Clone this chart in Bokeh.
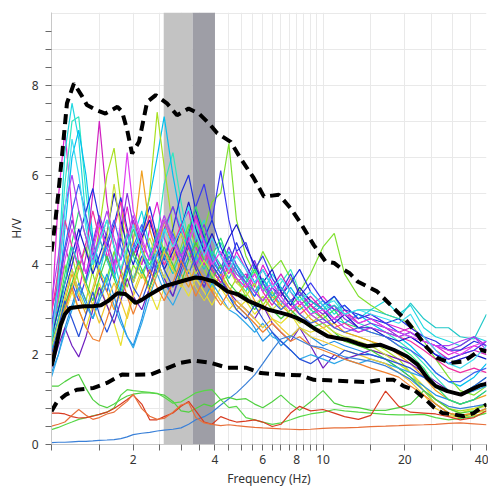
from bokeh.plotting import figure
from bokeh.models import FixedTicker, BasicTickFormatter, Range1d
from bokeh.embed import file_html
from bokeh.resources import INLINE

# ---------------- data ----------------
freq = [1.0, 1.06, 1.12, 1.19, 1.26, 1.34, 1.42, 1.5, 1.6, 1.7, 1.8, 1.9, 2.0,
        2.15, 2.3, 2.45, 2.6, 2.8, 3.0, 3.2, 3.4, 3.65, 3.9, 4.2, 4.5, 4.8,
        5.2, 5.6, 6.0, 6.5, 7.0, 7.6, 8.2, 9.0, 10, 11, 12, 13.5,
        15, 17, 19, 21, 23.5, 26, 29, 32, 36, 40]

h01 = [2.8, 5.5, 7.0, 5.2, 4.0, 3.6, 4.4, 5.0, 4.2, 3.8, 4.6, 5.3, 4.5,
       4.0, 4.8, 5.4, 4.6, 4.1, 4.9, 5.2, 4.4, 4.0, 4.6, 4.2, 3.8, 4.3,
       3.9, 3.5, 4.0, 3.6, 3.3, 3.7, 3.4, 3.1, 3.3, 3.0, 2.9, 2.8,
       2.9, 2.7, 2.6, 2.5, 2.3, 2.2, 2.0, 2.1, 2.2, 2.1]
h02 = [2.0, 4.0, 6.5, 7.6, 6.8, 5.0, 4.2, 3.8, 4.5, 4.1, 3.5, 4.0, 4.6,
       5.2, 4.4, 4.0, 4.7, 5.3, 4.8, 4.2, 4.6, 5.0, 4.3, 3.9, 4.4, 4.0,
       3.6, 4.0, 3.4, 3.8, 3.5, 3.2, 3.4, 3.0, 3.2, 2.9, 3.1, 2.8,
       3.0, 3.2, 2.9, 3.1, 2.6, 2.4, 2.3, 2.2, 2.4, 2.3]
h03 = [2.4, 3.8, 5.8, 7.2, 7.3, 5.6, 4.4, 3.9, 3.6, 4.2, 4.8, 4.0, 3.7,
       4.2, 3.9, 4.6, 5.8, 6.5, 5.4, 4.5, 4.9, 4.4, 4.0, 4.5, 4.1, 3.7,
       3.4, 3.9, 3.6, 3.3, 3.6, 3.9, 3.4, 3.2, 3.0, 3.3, 2.9, 2.7,
       2.6, 2.5, 2.3, 2.1, 1.8, 1.5, 1.2, 1.1, 1.3, 1.5]
h04 = [2.2, 3.2, 4.8, 6.4, 7.0, 6.0, 4.6, 4.0, 4.4, 3.8, 3.4, 3.9, 4.3,
       4.8, 5.5, 6.4, 7.3, 6.0, 5.0, 4.5, 4.1, 4.6, 4.2, 3.8, 4.3, 3.9,
       3.5, 3.3, 3.7, 3.4, 3.1, 3.5, 3.2, 2.9, 3.1, 2.8, 2.7, 2.9,
       2.7, 2.5, 2.4, 2.2, 1.9, 1.6, 1.4, 1.3, 1.5, 1.8]
h05 = [3.0, 3.6, 4.4, 3.9, 3.4, 4.2, 5.6, 7.2, 5.4, 4.4, 3.8, 4.4, 5.0,
       4.4, 3.9, 4.3, 5.0, 4.5, 4.0, 4.6, 5.1, 4.5, 3.9, 3.6, 4.0, 3.6,
       3.8, 3.4, 3.2, 3.5, 3.8, 3.4, 3.1, 3.3, 3.0, 2.8, 3.0, 2.7,
       2.8, 2.6, 2.5, 2.6, 2.4, 2.1, 1.9, 2.0, 2.1, 2.0]
h06 = [2.5, 3.0, 3.6, 4.2, 3.6, 3.2, 3.9, 4.8, 6.0, 6.6, 5.4, 4.2, 3.6,
       4.4, 5.6, 7.4, 6.2, 4.8, 4.2, 3.8, 4.3, 3.9, 3.5, 3.8, 3.4, 3.7,
       3.3, 3.6, 3.1, 3.4, 3.0, 3.2, 2.9, 2.7, 2.9, 2.6, 2.5, 2.4,
       2.3, 2.1, 1.9, 1.6, 1.3, 1.0, 0.8, 0.75, 0.8, 0.9]
h07 = [2.6, 3.2, 4.0, 3.4, 3.9, 4.4, 3.8, 3.3, 3.7, 4.3, 3.9, 3.5, 4.0,
       3.7, 4.2, 4.8, 4.3, 3.9, 4.4, 4.9, 4.4, 4.8, 5.4, 5.6, 6.7, 5.0,
       4.2, 3.8, 4.3, 3.9, 4.1, 3.7, 3.4, 3.8, 4.4, 4.7, 3.8, 3.3,
       3.1, 2.9, 2.8, 2.7, 2.3, 1.9, 1.5, 1.2, 1.1, 1.3]
h08 = [2.2, 2.8, 3.4, 4.0, 4.6, 5.2, 5.7, 5.0, 4.4, 4.9, 5.5, 4.8, 4.2,
       4.7, 5.3, 4.6, 4.1, 4.8, 5.6, 6.0, 5.2, 4.6, 5.0, 4.4, 4.0, 4.5,
       4.0, 3.6, 3.9, 3.5, 3.3, 3.6, 3.9, 3.4, 3.1, 3.3, 3.0, 2.9,
       2.8, 2.7, 2.8, 2.6, 2.4, 2.3, 2.1, 2.1, 2.3, 2.2]
h09 = [1.9, 2.4, 3.0, 3.6, 3.2, 3.7, 4.3, 3.8, 3.4, 4.0, 4.6, 4.1, 3.6,
       4.2, 3.8, 4.5, 5.0, 4.4, 4.0, 4.7, 5.3, 5.8, 5.0, 6.1, 5.0, 4.3,
       4.5, 3.9, 4.2, 3.7, 3.4, 3.8, 3.3, 3.6, 3.2, 3.0, 3.1, 2.8,
       2.9, 2.7, 2.5, 2.4, 2.2, 2.0, 1.9, 2.0, 2.1, 2.3]
h10 = [2.6, 3.4, 4.3, 5.0, 4.4, 3.8, 4.5, 5.1, 4.6, 4.0, 4.7, 5.6, 4.9,
       4.3, 3.7, 4.2, 4.8, 5.3, 4.7, 4.1, 4.5, 4.9, 4.3, 3.9, 4.4, 4.0,
       3.7, 4.1, 3.6, 3.3, 3.5, 3.2, 3.4, 3.1, 2.9, 3.1, 2.8, 2.6,
       2.7, 2.6, 2.4, 2.5, 2.3, 2.2, 2.1, 2.2, 2.4, 2.2]
h11 = [2.0, 2.6, 3.2, 3.8, 3.3, 2.9, 3.4, 3.9, 3.4, 3.0, 3.5, 4.1, 4.5,
       6.1, 4.8, 4.2, 5.0, 4.4, 3.8, 3.5, 4.0, 3.7, 3.4, 3.8, 3.5, 3.3,
       3.6, 3.2, 3.0, 3.3, 3.1, 2.9, 3.1, 2.8, 2.6, 2.7, 2.5, 2.4,
       2.3, 2.2, 2.0, 1.8, 1.5, 1.2, 1.0, 0.9, 1.0, 1.1]
h12 = [1.8, 2.3, 2.9, 3.4, 3.0, 2.6, 3.1, 3.6, 3.1, 2.7, 2.2, 2.9, 3.4,
       3.9, 3.4, 3.0, 3.5, 4.0, 3.6, 3.3, 3.7, 3.4, 3.1, 3.5, 3.2, 3.0,
       3.2, 2.9, 3.1, 2.8, 2.7, 2.9, 2.6, 2.5, 2.6, 2.4, 2.3, 2.2,
       2.1, 2.0, 1.8, 1.6, 1.3, 1.0, 0.8, 0.7, 0.8, 0.85]
h13 = [1.6, 2.0, 2.6, 3.1, 3.6, 3.2, 2.8, 3.3, 3.8, 3.3, 2.8, 2.4, 2.2,
       2.8, 3.5, 4.0, 3.6, 3.3, 3.8, 4.2, 3.8, 3.5, 3.9, 3.6, 3.3, 3.1,
       2.9, 2.6, 2.3, 2.5, 2.2, 2.4, 2.6, 2.4, 2.2, 2.3, 2.2, 2.1,
       2.0, 1.9, 1.7, 1.5, 1.3, 1.1, 1.0, 0.9, 1.0, 1.2]
h14 = [1.7, 2.2, 2.6, 2.2, 1.95, 2.4, 3.0, 3.5, 3.1, 2.7, 3.2, 3.7, 3.3,
       3.0, 3.5, 4.1, 3.7, 3.3, 3.9, 4.4, 3.9, 3.5, 4.0, 3.7, 3.4, 3.2,
       3.0, 2.8, 3.1, 2.7, 2.5, 2.3, 2.6, 2.2, 1.7, 2.0, 1.9, 2.0,
       2.1, 2.0, 1.9, 1.8, 1.6, 1.4, 1.2, 1.1, 1.2, 1.4]
h15 = [2.3, 3.0, 3.8, 4.5, 5.2, 4.6, 4.0, 4.5, 5.0, 4.4, 3.9, 4.3, 4.8,
       4.3, 4.0, 4.5, 5.0, 4.6, 4.2, 4.8, 5.3, 4.7, 4.2, 4.6, 4.1, 3.8,
       3.6, 3.9, 3.5, 3.2, 3.4, 3.1, 3.3, 3.0, 2.8, 3.0, 2.7, 2.6,
       2.5, 2.4, 2.2, 2.0, 1.7, 1.3, 1.0, 0.9, 1.0, 1.2]
h16 = [2.9, 3.9, 5.0, 4.4, 3.9, 4.5, 5.2, 4.6, 4.1, 4.8, 5.4, 4.7, 4.2,
       4.6, 5.1, 4.5, 4.0, 4.4, 4.9, 4.4, 4.0, 4.3, 3.9, 3.6, 4.0, 3.7,
       3.5, 3.8, 3.4, 3.1, 3.4, 3.1, 2.9, 3.1, 2.8, 2.6, 2.7, 2.5,
       2.6, 2.5, 2.4, 2.3, 2.1, 1.9, 1.7, 1.6, 1.7, 1.6]
h17 = [2.4, 3.0, 3.6, 4.2, 4.8, 4.3, 3.8, 4.2, 4.7, 5.6, 5.0, 4.4, 4.0,
       4.6, 5.0, 4.4, 3.9, 4.3, 4.8, 5.4, 4.8, 4.3, 4.7, 4.2, 4.6, 4.9,
       4.4, 4.0, 3.6, 3.9, 3.4, 3.1, 3.5, 3.2, 3.0, 2.7, 2.9, 2.6,
       2.6, 2.4, 2.3, 2.4, 2.2, 2.0, 1.8, 1.9, 2.0, 1.9]
h18 = [2.1, 2.8, 3.6, 4.4, 4.0, 3.6, 4.1, 4.6, 4.1, 3.7, 4.2, 4.7, 4.2,
       3.8, 4.2, 4.7, 4.2, 3.8, 4.3, 4.7, 4.2, 3.9, 4.3, 4.0, 3.7, 4.0,
       3.7, 3.4, 3.7, 3.3, 3.5, 3.2, 3.0, 3.2, 3.0, 3.1, 2.9, 3.0,
       3.0, 2.9, 2.8, 3.15, 2.8, 2.6, 2.6, 2.4, 2.35, 2.9]
h19 = [1.9, 2.5, 3.1, 3.6, 4.1, 3.6, 3.2, 3.7, 4.2, 3.7, 3.3, 3.8, 4.3,
       3.9, 3.5, 3.9, 4.4, 4.0, 3.6, 4.1, 4.5, 4.1, 3.7, 4.0, 3.6, 3.4,
       3.3, 3.0, 3.3, 3.0, 2.8, 3.0, 2.8, 2.6, 2.7, 2.5, 2.3, 2.2,
       2.1, 1.9, 1.7, 1.5, 1.2, 0.9, 0.7, 0.6, 0.7, 0.8]
h20 = [2.2, 2.7, 3.3, 3.9, 3.4, 3.0, 3.5, 4.0, 4.6, 5.8, 4.8, 4.0, 3.6,
       4.1, 4.6, 4.1, 3.7, 4.2, 4.7, 4.2, 3.8, 4.1, 3.8, 3.5, 3.9, 3.6,
       3.4, 3.1, 3.3, 3.0, 3.2, 2.9, 2.7, 2.9, 2.7, 2.5, 2.4, 2.3,
       2.2, 2.0, 1.8, 1.6, 1.2, 0.9, 0.7, 0.65, 0.7, 0.75]
h21 = [2.7, 3.5, 4.4, 5.2, 5.8, 5.1, 4.5, 4.0, 4.5, 5.0, 4.4, 3.9, 4.4,
       4.9, 4.3, 3.8, 4.2, 4.7, 4.2, 3.8, 4.2, 4.6, 4.1, 3.8, 4.2, 3.9,
       3.6, 3.3, 3.6, 3.2, 3.0, 3.2, 2.9, 2.7, 2.8, 2.6, 2.5, 2.6,
       2.5, 2.4, 2.2, 2.1, 1.9, 1.6, 1.4, 1.4, 1.6, 1.7]
h22 = [3.2, 4.2, 5.3, 6.0, 5.2, 4.6, 4.1, 4.6, 5.2, 4.6, 4.1, 4.6, 5.1,
       4.5, 4.1, 4.6, 5.1, 4.6, 4.2, 4.5, 4.0, 4.4, 4.0, 3.7, 4.1, 3.8,
       3.6, 3.4, 3.2, 3.5, 3.2, 3.0, 3.2, 2.9, 2.7, 2.8, 2.6, 2.5,
       2.6, 2.5, 2.4, 2.5, 2.3, 2.2, 2.2, 2.3, 2.4, 2.1]
h23 = [1.5, 2.0, 2.5, 3.0, 3.5, 3.1, 2.8, 3.2, 3.6, 3.1, 2.7, 2.4, 2.15,
       2.7, 3.3, 3.8, 3.4, 3.1, 3.5, 3.9, 3.5, 3.2, 3.6, 3.3, 3.0, 2.9,
       2.7, 2.5, 2.7, 2.4, 2.3, 2.1, 1.9, 2.0, 1.9, 1.8, 1.9, 1.8,
       1.9, 1.8, 1.7, 1.6, 1.5, 1.3, 1.2, 1.1, 1.2, 1.3]
h24 = [2.5, 3.3, 4.1, 4.8, 4.3, 3.8, 4.3, 4.9, 4.4, 3.9, 5.0, 6.5, 5.2,
       4.6, 4.1, 4.5, 5.0, 4.5, 4.1, 4.5, 5.0, 4.5, 4.0, 4.3, 3.9, 3.7,
       3.5, 3.8, 3.4, 3.6, 3.3, 3.0, 3.2, 2.9, 3.0, 2.8, 2.9, 2.7,
       2.8, 2.6, 2.5, 2.4, 2.3, 2.2, 2.1, 2.0, 2.2, 2.3]
h25 = [1.8, 2.4, 3.0, 3.5, 4.0, 3.5, 3.1, 2.7, 3.2, 3.6, 3.2, 2.8, 3.3,
       3.8, 3.4, 3.8, 4.3, 3.9, 3.5, 3.9, 3.5, 3.2, 3.5, 3.2, 3.0, 3.2,
       3.0, 2.8, 2.6, 2.8, 2.6, 2.4, 2.6, 2.4, 2.3, 2.2, 2.1, 2.0,
       1.9, 1.8, 1.6, 1.4, 1.1, 0.8, 0.65, 0.6, 0.65, 0.7]
h26 = [2.0, 2.6, 3.2, 2.8, 2.4, 2.9, 3.4, 2.9, 2.5, 2.9, 3.5, 4.0, 3.5,
       3.2, 3.7, 4.3, 3.9, 3.5, 4.0, 4.5, 4.0, 3.6, 4.0, 3.7, 3.3, 3.0,
       2.8, 3.1, 2.8, 2.5, 2.3, 2.1, 1.9, 1.8, 2.0, 1.9, 2.1, 2.0,
       2.0, 1.9, 1.8, 1.7, 1.5, 1.3, 1.2, 1.1, 1.3, 1.5]
h27 = [2.3, 3.6, 5.2, 6.8, 6.0, 4.8, 4.0, 4.5, 5.0, 4.4, 3.9, 4.4, 4.9,
       4.3, 3.9, 4.3, 4.8, 4.4, 4.8, 5.3, 4.7, 4.2, 4.6, 4.2, 3.9, 4.2,
       3.9, 3.6, 3.9, 3.5, 3.7, 3.4, 3.2, 3.4, 3.1, 3.2, 2.9, 3.0,
       2.9, 2.8, 2.7, 2.9, 2.4, 2.1, 1.8, 1.7, 1.9, 2.2]
h28 = [1.9, 2.5, 3.0, 3.5, 3.0, 2.6, 2.35, 2.3, 2.8, 3.3, 3.8, 3.3, 2.9,
       3.4, 3.9, 3.5, 3.2, 3.6, 4.1, 3.7, 3.3, 3.7, 3.4, 3.1, 3.4, 3.1,
       2.9, 2.7, 2.5, 2.7, 2.5, 2.3, 2.4, 2.2, 2.1, 2.0, 1.9, 1.8,
       1.7, 1.6, 1.5, 1.3, 1.1, 0.9, 0.7, 0.65, 0.7, 0.8]

# low-amplitude windows
low_blue = [0.04, 0.05, 0.05, 0.06, 0.07, 0.07, 0.08, 0.09, 0.10, 0.11, 0.13, 0.17, 0.22,
            0.25, 0.27, 0.30, 0.32, 0.34, 0.37, 0.45, 0.55, 0.62, 0.72, 0.88, 1.02, 1.15,
            1.35, 1.55, 1.80, 2.10, 2.35, 2.42, 2.32, 2.20, 2.15, 2.05, 1.95, 1.90,
            1.85, 1.75, 1.60, 1.45, 1.20, 1.00, 0.85, 0.80, 0.85, 0.90]
low_green1 = [1.30, 1.30, 1.40, 1.50, 1.56, 1.25, 1.00, 0.88, 0.82, 0.90, 1.00, 1.08, 1.12,
              1.15, 1.15, 1.13, 1.10, 0.96, 0.75, 0.72, 0.80, 0.90, 0.85, 1.00, 1.05, 1.00,
              1.02, 0.90, 0.82, 0.95, 1.10, 0.90, 0.76, 0.95, 1.20, 0.92, 0.85, 0.82,
              0.76, 0.76, 0.82, 0.90, 1.20, 1.00, 0.80, 0.70, 0.75, 0.90]
low_green2 = [0.33, 0.38, 0.44, 0.50, 0.56, 0.60, 0.64, 0.67, 0.72, 0.82, 1.10, 1.22, 1.20,
              1.18, 1.16, 1.14, 1.05, 0.92, 0.95, 1.05, 1.15, 1.20, 1.22, 1.00, 0.82, 0.85,
              0.60, 0.55, 0.50, 0.45, 0.48, 0.55, 0.62, 0.68, 0.72, 0.78, 0.75, 0.72,
              0.70, 0.67, 0.66, 0.66, 0.67, 0.60, 0.55, 0.58, 0.62, 0.70]
low_red = [0.70, 0.70, 0.68, 0.62, 0.59, 0.60, 0.63, 0.67, 0.72, 0.80, 0.90, 1.00, 1.10,
           0.90, 0.55, 0.55, 0.62, 0.70, 0.85, 0.96, 0.75, 0.50, 0.45, 0.62, 0.55, 0.50,
           0.52, 0.55, 0.50, 0.40, 0.45, 0.70, 0.85, 0.75, 0.78, 0.70, 0.62, 0.56,
           0.65, 1.19, 0.85, 0.72, 0.70, 0.68, 0.62, 0.55, 0.60, 0.75]
low_orange = [0.41, 0.45, 0.50, 0.65, 0.78, 0.65, 0.56, 0.60, 0.68, 0.72, 0.85, 0.96, 1.12,
              0.80, 0.63, 0.56, 0.58, 0.72, 0.88, 0.93, 0.60, 0.48, 0.45, 0.42, 0.44, 0.42,
              0.40, 0.38, 0.37, 0.36, 0.35, 0.34, 0.33, 0.34, 0.36, 0.37, 0.37, 0.38,
              0.40, 0.41, 0.42, 0.43, 0.44, 0.45, 0.47, 0.48, 0.46, 0.44]

# average H/V and +/- standard deviation curves
mean_f = [1.0, 1.02, 1.05, 1.08, 1.12, 1.17, 1.25, 1.32, 1.42, 1.52,
          1.62, 1.75, 1.87, 1.96, 2.04, 2.15, 2.25, 2.4, 2.59, 2.8,
          2.99, 3.2, 3.39, 3.6, 3.96, 4.2, 4.44, 4.83, 5.3, 5.8,
          6.3, 7.0, 7.5, 8.0, 8.6, 9.25, 10.4, 11.5, 12.3, 13.4,
          14.5, 16.3, 18.2, 20.4, 22.3, 24.2, 26.0, 28.7, 32.2, 35.0,
          38.0, 40.0]
mean_hv = [1.75, 1.95, 2.3, 2.65, 2.9, 3.04, 3.06, 3.08, 3.08, 3.10,
           3.2, 3.37, 3.35, 3.25, 3.15, 3.22, 3.30, 3.40, 3.52, 3.58,
           3.63, 3.68, 3.72, 3.70, 3.63, 3.52, 3.41, 3.35, 3.2, 3.1,
           3.0, 2.93, 2.88, 2.82, 2.72, 2.59, 2.41, 2.36, 2.33, 2.25,
           2.19, 2.22, 2.11, 1.96, 1.78, 1.48, 1.30, 1.19, 1.11, 1.22,
           1.32, 1.35]
upper_f = [1.0, 1.03, 1.06, 1.10, 1.14, 1.21, 1.30, 1.35, 1.47, 1.58,
           1.75, 1.82, 1.90, 1.98, 2.10, 2.25, 2.42, 2.67, 2.90, 3.2,
           3.49, 3.8, 4.08, 4.57, 4.97, 5.56, 6.06, 6.88, 7.6, 8.27,
           9.25, 10.2, 11.0, 11.6, 12.5, 13.4, 15.8, 18.2, 20.4, 22.3,
           24.2, 26.3, 29.5, 33.0, 38.1, 40.0]
upper_hv = [4.3, 4.9, 5.6, 6.6, 7.6, 8.04, 7.74, 7.56, 7.44, 7.37,
            7.52, 7.41, 7.0, 6.48, 6.74, 7.63, 7.78, 7.59, 7.33, 7.48,
            7.37, 7.15, 6.93, 6.74, 6.37, 5.93, 5.52, 5.56, 5.26, 4.93,
            4.44, 4.08, 4.04, 3.93, 3.82, 3.63, 3.41, 3.04, 2.74, 2.44,
            2.15, 1.93, 1.82, 1.85, 2.11, 2.07]
lower_f = [1.0, 1.05, 1.13, 1.24, 1.43, 1.6, 1.82, 2.01, 2.32, 2.59,
           2.99, 3.34, 3.85, 4.44, 5.2, 5.9, 6.99, 8.27, 9.25, 10.5,
           12.3, 14.5, 16.3, 18.2, 19.8, 21.6, 23.5, 25.7, 27.5, 30.3,
           33.0, 35.9, 38.1, 40.0]
lower_hv = [0.74, 0.96, 1.11, 1.22, 1.26, 1.37, 1.56, 1.55, 1.56, 1.67,
            1.82, 1.87, 1.82, 1.71, 1.71, 1.59, 1.56, 1.54, 1.44, 1.43,
            1.41, 1.39, 1.44, 1.44, 1.30, 1.22, 1.04, 0.82, 0.70, 0.67,
            0.63, 0.70, 0.81, 0.89]

# peak frequency band (f0 - std, f0, f0 + std)
band_left = [2.59, 3.31]
band_right = [3.31, 4.0]
band_colors = ["#c3c3c3", "#9e9ea6"]

# ticks
x_major = [2, 4, 6, 8, 10, 20, 40]
x_minor = [1, 1.5, 2.5, 3, 3.5, 4.5, 5, 5.5, 6.5, 7, 7.5, 8.5, 9, 9.5, 15, 25, 30, 35]
y_major = [0, 2, 4, 6, 8]
y_minor = [0.4, 0.8, 1.2, 1.6, 2.4, 2.8, 3.2, 3.6, 4.4, 4.8, 5.2, 5.6,
           6.4, 6.8, 7.2, 7.6, 8.4, 8.8, 9.2]
y_grid = [0.8, 1.6, 2.4, 3.2, 4.0, 4.8, 5.6, 6.4, 7.2, 8.0, 8.8, 9.6]

curves = [
    (h01, "#e020d0"), (h02, "#20d8e0"), (h03, "#30e8c0"), (h04, "#00c0f0"),
    (h05, "#d020c0"), (h06, "#a8e020"), (h07, "#80e030"), (h08, "#2030e0"),
    (h09, "#3a3af0"), (h10, "#8a30e0"), (h11, "#f0a020"), (h12, "#e8e030"),
    (h13, "#2090e8"), (h14, "#7020c0"), (h15, "#30e070"), (h16, "#f030a0"),
    (h17, "#1818c8"), (h18, "#20c8c8"), (h19, "#40d040"), (h20, "#c8e040"),
    (h21, "#4060f0"), (h22, "#b040f0"), (h23, "#30a8e8"), (h24, "#e040f0"),
    (h25, "#f0c830"), (h26, "#2850d8"), (h27, "#40e0f0"), (h28, "#f08030"),
]
low_curves = [
    (low_blue, "#3a80d8"), (low_green1, "#50d040"), (low_green2, "#58d848"),
    (low_red, "#d83a20"), (low_orange, "#e8703a"),
]

# ---------------- figure ----------------
FONT = "Noto Sans"
p = figure(width=488, height=489, x_axis_type="log",
           x_range=Range1d(1, 40), y_range=Range1d(0, 9.62),
           output_backend="svg", toolbar_location=None,
           min_border_left=51, min_border_right=2,
           min_border_top=12, min_border_bottom=42)
p.outline_line_color = None
p.background_fill_color = "white"
p.border_fill_color = "white"

# bands
p.quad(left=band_left, right=band_right, bottom=0, top=9.62,
       fill_color=band_colors, line_color=None)

for ys, c in curves:
    p.line(freq, ys, line_color=c, line_width=1.2)
for ys, c in low_curves:
    p.line(freq, ys, line_color=c, line_width=1.2)

p.line(upper_f, upper_hv, line_color="black", line_width=4, line_dash="10 6")
p.line(lower_f, lower_hv, line_color="black", line_width=4, line_dash="10 6")
p.line(mean_f, mean_hv, line_color="black", line_width=4)

# axes
xa = p.xaxis[0]
xa.ticker = FixedTicker(ticks=x_major, minor_ticks=x_minor)
xa.formatter = BasicTickFormatter()
ya = p.yaxis[0]
ya.ticker = FixedTicker(ticks=y_major, minor_ticks=y_minor)

for ax in (xa, ya):
    ax.axis_line_color = "#c8c8c8"
    ax.major_tick_line_color = "#6a6a6a"
    ax.minor_tick_line_color = "#6a6a6a"
    ax.major_tick_in = 0
    ax.minor_tick_in = 0
    ax.major_tick_out = 6
    ax.minor_tick_out = 6
    ax.major_label_text_font = FONT
    ax.major_label_text_font_size = "12px"
    ax.major_label_text_color = "#333333"
    ax.axis_label_text_font = FONT
    ax.axis_label_text_font_size = "12px"
    ax.axis_label_text_font_style = "normal"
    ax.axis_label_text_color = "#333333"

xa.axis_label = "Frequency (Hz)"
ya.axis_label = "H/V"
xa.major_label_standoff = 4
ya.major_label_standoff = 7
xa.axis_label_standoff = 3
ya.axis_label_standoff = 4

p.xgrid.ticker = FixedTicker(ticks=x_major + x_minor)
p.ygrid.ticker = FixedTicker(ticks=y_grid)
p.xgrid.grid_line_color = "#e9e9e9"
p.ygrid.grid_line_color = "#e9e9e9"

open("out.html", "w").write(file_html(p, INLINE))
